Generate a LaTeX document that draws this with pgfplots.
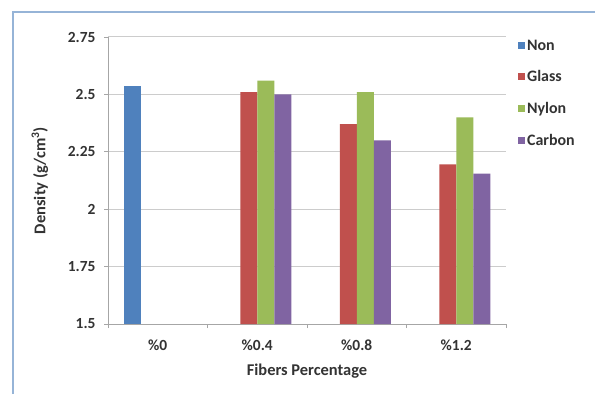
\documentclass[border=0pt]{standalone}
\usepackage{pgfplots}
\pgfplotsset{compat=1.18}
\usepackage{fontspec}
\setmainfont{Carlito}
\definecolor{cNon}{HTML}{4F81BD}
\definecolor{cGlass}{HTML}{C0504D}
\definecolor{cNylon}{HTML}{9BBB59}
\definecolor{cCarbon}{HTML}{8064A2}
\definecolor{frame}{RGB}{150,180,215}
\begin{document}
\begin{tikzpicture}[x=1bp,y=1bp]
\useasboundingbox (0,0) rectangle (595,394);
\fill[white] (0,0) rectangle (595,394);
\draw[frame, line width=2.5bp] (13,0) -- (13,382) -- (595,382);
\begin{axis}[
  at={(108bp,70bp)}, anchor=south west,
  scale only axis, width=398bp, height=287bp,
  ybar=0pt, bar width=17bp,
  xmin=-0.5, xmax=3.5, ymin=1.5, ymax=2.75,
  axis x line*=bottom, axis y line*=left,
  axis line style={draw=gray!70, line width=0.8pt},
  xtick={0,1,2,3}, xticklabels={\%0,\%0.4,\%0.8,\%1.2},
  major x tick style={draw=none},
  minor xtick={-0.5,0.5,1.5,2.5,3.5},
  minor x tick style={draw=gray!70, line width=0.8pt},
  minor tick length=4bp,
  ytick={1.5,1.75,2,2.25,2.5,2.75},
  yticklabels={1.5,1.75,2,2.25,2.5,2.75},
  major y tick style={draw=gray!70, line width=0.8pt},
  major tick length=4bp,
  tick align=outside,
  ymajorgrids, grid style={draw=gray!40, line width=1pt},
  tick label style={font=\bfseries\fontsize{15.5}{18}\selectfont, text=black!80},
  xticklabel style={yshift=-8bp},
  yticklabel style={xshift=-5bp},
  xlabel={Fibers Percentage},
  ylabel={Density (g/cm\textsuperscript{3})},
  label style={font=\bfseries\fontsize{16.5}{19}\selectfont, text=black!80},
  xlabel style={at={(axis description cs:0.5,-0.165)}, anchor=center},
  ylabel style={at={(axis description cs:-0.171,0.5)}, anchor=center},
  legend style={at={(1.03,0.998)}, anchor=north west, draw=none, fill=none,
    font=\bfseries\fontsize{16}{19}\selectfont, text=black!80,
    row sep=15bp, inner sep=0pt},
  legend cell align=left,
  legend image code/.code={\fill[#1] (0bp,-3.5bp) rectangle (7bp,3.5bp);},
]
\addplot[fill=cNon, draw=none] coordinates {(0,2.535)};
\addplot[fill=cGlass, draw=none] coordinates {(1,2.51) (2,2.37) (3,2.195)};
\addplot[fill=cNylon, draw=none] coordinates {(1,2.56) (2,2.51) (3,2.40)};
\addplot[fill=cCarbon, draw=none] coordinates {(1,2.50) (2,2.30) (3,2.155)};
\legend{Non,Glass,Nylon,Carbon}
\end{axis}
\end{tikzpicture}
\end{document}
